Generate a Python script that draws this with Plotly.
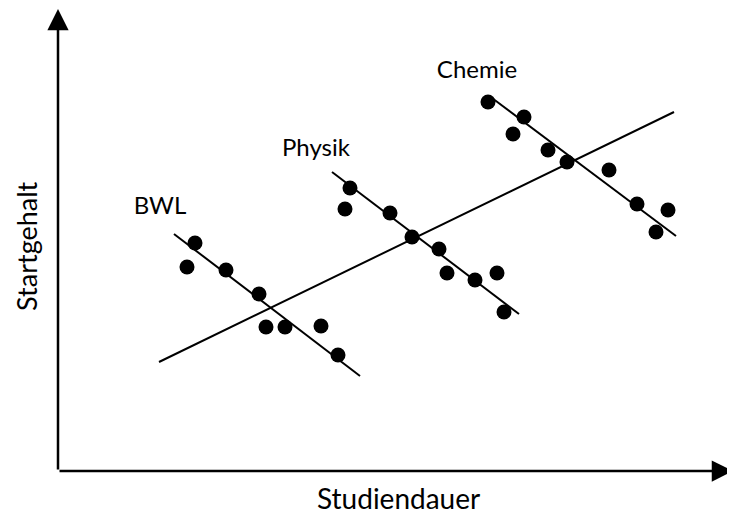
import plotly.graph_objects as go

# Simpson-Paradoxon: Studiendauer vs. Startgehalt (arbitrary units, no ticks)
bwl_x = [195, 187, 226, 259, 266, 285, 321, 338]
bwl_y = [274, 250, 247, 223, 190, 190, 191, 162]
physik_x = [350, 345, 390, 412, 439, 447, 475, 497, 504]
physik_y = [329, 308, 304, 280, 268, 244, 237, 244, 205]
chemie_x = [488, 524, 513, 548, 567, 609, 637, 668, 656]
chemie_y = [415, 400, 383, 367, 355, 347, 313, 307, 285]

# trend lines (start/end)
bwl_fit_x = [174, 360]
bwl_fit_y = [283, 141]
physik_fit_x = [332, 519]
physik_fit_y = [345, 203]
chemie_fit_x = [492, 676]
chemie_fit_y = [419, 281]
total_fit_x = [159, 674]
total_fit_y = [155, 405]

groups = ["BWL", "Physik", "Chemie"]
label_x = [160, 316, 477]
label_y = [309, 367, 445]

FONT = "Lato"

fig = go.Figure()

for fx, fy in [(bwl_fit_x, bwl_fit_y), (physik_fit_x, physik_fit_y),
               (chemie_fit_x, chemie_fit_y), (total_fit_x, total_fit_y)]:
    fig.add_trace(go.Scatter(x=fx, y=fy, mode="lines",
                             line=dict(color="black", width=2), hoverinfo="skip"))

for px_, py_ in [(bwl_x, bwl_y), (physik_x, physik_y), (chemie_x, chemie_y)]:
    fig.add_trace(go.Scatter(x=px_, y=py_, mode="markers",
                             marker=dict(color="black", size=15)))

fig.add_trace(go.Scatter(x=label_x, y=label_y, mode="text", text=groups,
                         textfont=dict(family=FONT, size=24, color="black")))

# axes with arrows
fig.add_annotation(x=58, y=508, ax=58, ay=46, xref="x", yref="y", axref="x", ayref="y",
                   showarrow=True, arrowhead=2, arrowsize=1.7, arrowwidth=2.5,
                   arrowcolor="black", text="")
fig.add_annotation(x=733, y=46, ax=58, ay=46, xref="x", yref="y", axref="x", ayref="y",
                   showarrow=True, arrowhead=2, arrowsize=1.7, arrowwidth=2.5,
                   arrowcolor="black", text="")

fig.add_annotation(x=398, y=19, xref="x", yref="y", text="Studiendauer", showarrow=False,
                   font=dict(family=FONT, size=28, color="black"))
fig.add_annotation(x=26, y=271, xref="x", yref="y", text="Startgehalt", showarrow=False,
                   textangle=-90, font=dict(family=FONT, size=27, color="black"))

# page body has an 8px margin, so the figure is a bit smaller and the ranges shifted
fig.update_layout(
    width=727, height=509,
    margin=dict(l=0, r=0, t=0, b=0, autoexpand=False),
    paper_bgcolor="white", plot_bgcolor="white",
    showlegend=False,
    xaxis=dict(range=[8, 735], visible=False, fixedrange=True),
    yaxis=dict(range=[0, 509], visible=False, fixedrange=True),
)

fig.write_html("out.html")
